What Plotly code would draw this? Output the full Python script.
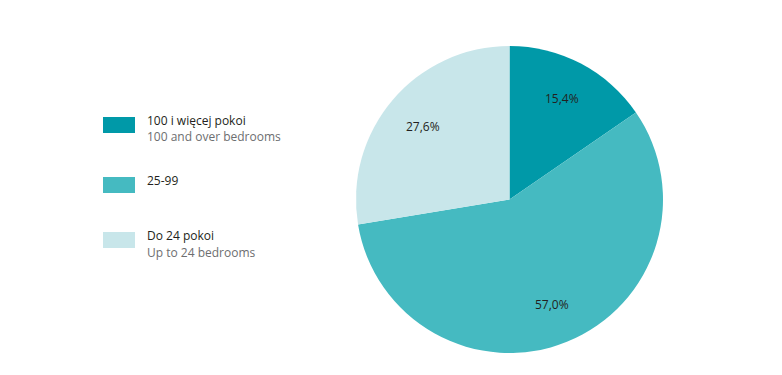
import math
import plotly.graph_objects as go

labels_pl = ["100 i więcej pokoi", "25-99", "Do 24 pokoi"]
labels_en = ["100 and over bedrooms", "", "Up to 24 bedrooms"]
values = [15.4, 57.0, 27.6]
colors = ["#0099A8", "#45BAC1", "#C8E6EA"]

W, H = 782, 375
CX, CY, R = 509.5, 199.5, 153.5  # pie centre / radius in pixels

text = [f"{v:.1f}%".replace(".", ",") for v in values]

fig = go.Figure()
fig.add_trace(go.Pie(
    labels=labels_pl, values=values,
    textinfo="none",
    marker=dict(colors=colors, line=dict(width=0)),
    sort=False, direction="clockwise", rotation=0,
    domain=dict(x=[(CX - R) / W, (CX + R) / W], y=[1 - (CY + R) / H, 1 - (CY - R) / H]),
    showlegend=False, hoverinfo="skip",
))

shapes = []
annotations = []

# slice labels, placed along each slice's mid-angle
total = sum(values)
cum = 0.0
for v, t in zip(values, text):
    mid = (cum + v / 2) / total * 2 * math.pi
    cum += v
    px = CX + 0.74 * R * math.sin(mid)
    py = CY - 0.74 * R * math.cos(mid)
    annotations.append(dict(xref="paper", yref="paper", x=px / W, y=1 - py / H,
                            text=t, showarrow=False, xanchor="center", yanchor="middle",
                            font=dict(family="Open Sans", size=12, color="#231F20")))

# legend drawn as swatches + text
legend_y = [125, 185, 240]  # pixel centres of swatches
for i, (pl, en) in enumerate(zip(labels_pl, labels_en)):
    yc = legend_y[i]
    shapes.append(dict(type="rect", xref="paper", yref="paper",
                       x0=103 / W, x1=135 / W, y0=1 - (yc + 8) / H, y1=1 - (yc - 8) / H,
                       fillcolor=colors[i], line=dict(width=0)))
    annotations.append(dict(xref="paper", yref="paper", x=145 / W, y=1 - (yc - 5) / H,
                            text=pl, showarrow=False, xanchor="left", yanchor="middle",
                            font=dict(family="Open Sans", size=12, color="#231F20")))
    if en:
        annotations.append(dict(xref="paper", yref="paper", x=145 / W, y=1 - (yc + 12) / H,
                                text=en, showarrow=False, xanchor="left", yanchor="middle",
                                font=dict(family="Open Sans", size=12, color="#6D6E70")))

fig.update_layout(width=W, height=H, margin=dict(l=0, r=0, t=0, b=0),
                  paper_bgcolor="white", plot_bgcolor="white",
                  shapes=shapes, annotations=annotations)
fig.write_html("out.html", config={"displayModeBar": False},
               post_script="document.body.style.margin='0';document.body.style.overflow='hidden';")
